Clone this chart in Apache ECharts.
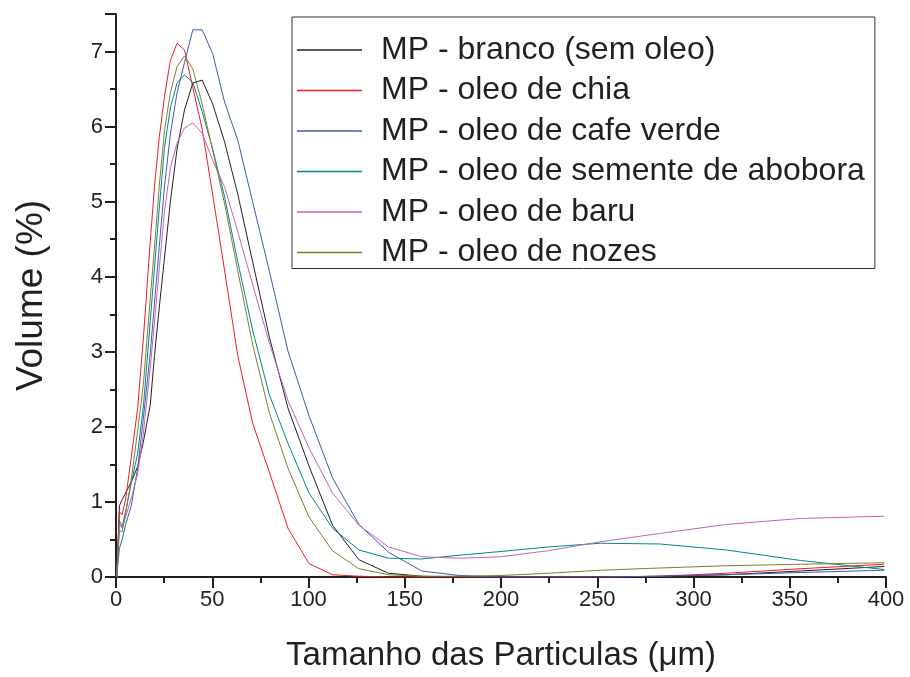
<!DOCTYPE html>
<html>
<head>
<meta charset="utf-8">
<script src="https://cdn.jsdelivr.net/npm/echarts@6/dist/echarts.min.js"></script>
<style>
html,body{margin:0;padding:0;background:#fff;}
#chart{width:910px;height:677px;}
</style>
</head>
<body>
<div id="chart"></div>
<script>
// Particle size classes (µm)
var sizes = [0.35, 1.78, 3.17, 5.02, 7.96, 11.25, 14.16, 17.83, 20, 22.44, 25.18, 28.25, 31.7, 35.57, 39.91, 44.77, 50.24, 56.37, 63.25, 70.96, 79.62, 89.34, 100.24, 112.47, 126.19, 141.59, 158.87, 178.25, 200, 224.4, 251.8, 282.5, 317, 355.7, 399.1];

var seriesNames = ['MP - branco (sem oleo)', 'MP - oleo de chia', 'MP - oleo de cafe verde', 'MP - oleo de semente de abobora', 'MP - oleo de baru', 'MP - oleo de nozes'];

var branco = [0, 0.95, 1.03, 1.12, 1.27, 1.47, 1.79, 2.3, 2.95, 3.58, 4.25, 5.0, 5.7, 6.22, 6.58, 6.62, 6.3, 5.8, 5.1, 4.2, 3.2, 2.25, 1.48, 0.69, 0.23, 0.05, 0.01, 0, 0, 0, 0, 0.01, 0.03, 0.08, 0.14];
var chia = [0, 0.87, 0.83, 1.04, 1.6, 2.25, 3.16, 4.48, 5.2, 5.85, 6.4, 6.88, 7.11, 7.02, 6.52, 5.97, 5.09, 4.09, 2.95, 2.05, 1.4, 0.65, 0.18, 0.03, 0.01, 0, 0, 0, 0, 0, 0, 0.01, 0.05, 0.11, 0.17];
var cafeVerde = [0, 0.38, 0.5, 0.7, 0.95, 1.45, 2.1, 2.99, 3.65, 4.39, 5.2, 5.9, 6.45, 6.85, 7.29, 7.29, 6.97, 6.33, 5.82, 5.0, 4.08, 3.01, 2.15, 1.32, 0.7, 0.33, 0.08, 0.02, 0, 0, 0, 0.01, 0.03, 0.06, 0.09];
var abobora = [0, 0.75, 0.67, 0.88, 1.25, 1.65, 2.25, 3.42, 4.12, 4.9, 5.72, 6.25, 6.58, 6.69, 6.59, 6.2, 5.7, 5.07, 4.2, 3.29, 2.43, 1.78, 1.12, 0.65, 0.36, 0.25, 0.24, 0.29, 0.34, 0.4, 0.45, 0.44, 0.36, 0.22, 0.1];
var baru = [0, 0.7, 0.65, 0.8, 1.05, 1.38, 1.9, 2.8, 3.4, 4.1, 4.87, 5.45, 5.78, 5.98, 6.05, 5.91, 5.55, 5.2, 4.6, 3.9, 3.12, 2.35, 1.72, 1.12, 0.69, 0.4, 0.27, 0.25, 0.27, 0.35, 0.47, 0.58, 0.7, 0.78, 0.81];
var nozes = [0, 0.62, 0.6, 0.85, 1.3, 1.95, 2.55, 3.72, 4.4, 5.2, 5.95, 6.45, 6.8, 6.94, 6.77, 6.3, 5.68, 4.98, 4.08, 3.1, 2.19, 1.45, 0.8, 0.35, 0.11, 0.03, 0.01, 0.01, 0.02, 0.05, 0.09, 0.12, 0.15, 0.17, 0.19];

var colors = ['#231f20', '#ed1c24', '#3a5bb8', '#00868a', '#c862b8', '#7f7f2e'];
var xTicks = {min: 0, max: 400, interval: 50};
var yTicks = {min: 0, max: 7.5, interval: 1};

var values = [branco, chia, cafeVerde, abobora, baru, nozes];
var FONT = '"Liberation Sans", Arial, sans-serif';
var AX = '#231f20';

var chart = echarts.init(document.getElementById('chart'), null, {renderer: 'canvas'});
chart.setOption({
  animation: false,
  backgroundColor: '#ffffff',
  color: colors,
  grid: {left: 116, right: 24, top: 14, bottom: 95, containLabel: false},
  legend: {
    orient: 'vertical',
    left: 292, top: 17,
    width: 594,
    padding: [17, 10, 0, 5],
    icon: 'rect',
    itemWidth: 65, itemHeight: 1.3, itemGap: 8.5,
    borderColor: '#333', borderWidth: 1, borderRadius: 0,
    backgroundColor: '#fff',
    textStyle: {fontFamily: FONT, fontSize: 32, color: '#231f20', lineHeight: 32, padding: [0, 0, 0, 14]},
    data: seriesNames
  },
  xAxis: {
    type: 'value', min: xTicks.min, max: xTicks.max, interval: xTicks.interval,
    name: 'Tamanho das Particulas (\u03bcm)', nameLocation: 'middle', nameGap: 62,
    nameTextStyle: {fontFamily: FONT, fontSize: 33, color: AX},
    axisLine: {show: true, lineStyle: {color: AX, width: 2}},
    axisTick: {show: true, inside: false, length: 11, lineStyle: {color: AX, width: 2}},
    minorTick: {show: true, splitNumber: 2, length: 6, lineStyle: {color: AX, width: 2}},
    axisLabel: {fontFamily: FONT, fontSize: 22, color: AX, margin: 12},
    splitLine: {show: false}
  },
  yAxis: {
    type: 'value', min: yTicks.min, max: yTicks.max, interval: yTicks.interval,
    name: 'Volume (%)', nameLocation: 'middle', nameGap: 66,
    nameTextStyle: {fontFamily: FONT, fontSize: 37, color: AX},
    axisLine: {show: true, lineStyle: {color: AX, width: 2}},
    axisTick: {show: true, inside: false, length: 11, lineStyle: {color: AX, width: 2}},
    minorTick: {show: true, splitNumber: 2, length: 6, lineStyle: {color: AX, width: 2}},
    axisLabel: {fontFamily: FONT, fontSize: 22, color: AX, margin: 13, showMaxLabel: false,
      formatter: function (v) { return (v % 1 === 0) ? String(v) : ''; }},
    splitLine: {show: false}
  },
  series: seriesNames.map(function (n, i) {
    return {
      name: n, type: 'line', symbol: 'none', showSymbol: false,
      lineStyle: {width: 1, color: colors[i]},
      itemStyle: {color: colors[i]},
      data: sizes.map(function (s, k) { return [s, values[i][k]]; })
    };
  })
});
</script>
</body>
</html>
